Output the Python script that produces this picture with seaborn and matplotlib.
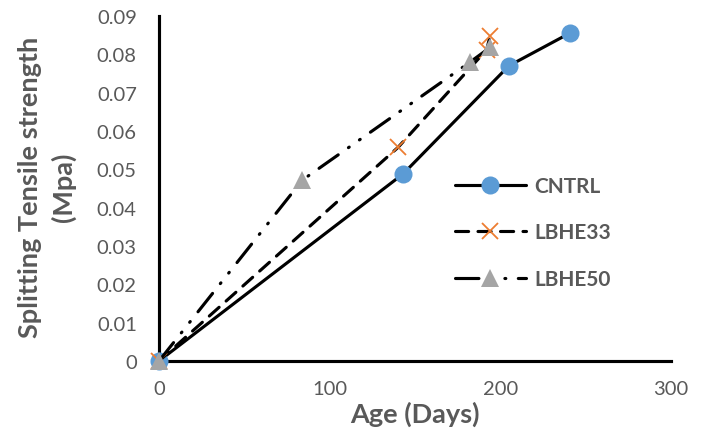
import matplotlib
matplotlib.use("Agg")
import matplotlib.pyplot as plt
import seaborn as sns
import pandas as pd
from matplotlib.lines import Line2D

# ---- data ----
series_names = ["CNTRL", "LBHE33", "LBHE50"]
cntrl_age = [0, 143, 205, 241]
cntrl_str = [0, 0.0488, 0.0770, 0.0856]
lbhe33_age = [0, 140, 192, 194]
lbhe33_str = [0, 0.0557, 0.0812, 0.0848]
lbhe50_age = [0, 84, 182, 194]
lbhe50_str = [0, 0.0472, 0.0779, 0.0818]
x_ticks = [0, 100, 200, 300]
y_ticks = [0, 0.01, 0.02, 0.03, 0.04, 0.05, 0.06, 0.07, 0.08, 0.09]
y_tick_labels = ["0", "0.01", "0.02", "0.03", "0.04", "0.05", "0.06", "0.07", "0.08", "0.09"]

sns.set_style("white")
plt.rcParams["font.family"] = ["Lato", "DejaVu Sans"]

TEXT = "#595959"
BLUE = "#5B9BD5"
ORANGE = "#ED7D31"
GRAY = "#A5A5A5"
LW = 2.25

fig = plt.figure(figsize=(7.07, 4.39), dpi=100)
ax = fig.add_axes([159/707, 77/439, 512/707, 345/439])

styles = [
    dict(linestyle="-", marker="o", markersize=13, markerfacecolor=BLUE,
         markeredgecolor=BLUE, markeredgewidth=0),
    dict(linestyle=(0, (4.2, 3.0)), marker="x", markersize=11,
         markeredgecolor=ORANGE, markeredgewidth=1.3),
    dict(linestyle=(0, (7.5, 4.0, 0.3, 4.0, 0.3, 4.0)), marker="^", markersize=13,
         markerfacecolor=GRAY, markeredgecolor=GRAY, markeredgewidth=0),
]
ages = [cntrl_age, lbhe33_age, lbhe50_age]
strs = [cntrl_str, lbhe33_str, lbhe50_str]

handles = []
for i, name in enumerate(series_names):
    df = pd.DataFrame({"age": ages[i], "strength": strs[i]})
    sns.lineplot(data=df, x="age", y="strength", ax=ax, sort=False,
                 color="black", linewidth=LW, clip_on=False,
                 dash_capstyle="round", solid_capstyle="round",
                 zorder=3 + i, **styles[i])
    handles.append(Line2D([], [], color="black", linewidth=LW,
                          dash_capstyle="round", solid_capstyle="round", **styles[i]))

ax.set_xlim(0, 300)
ax.set_ylim(0, 0.09)
ax.set_xticks(x_ticks)
ax.set_xticklabels([str(v) for v in x_ticks])
ax.set_yticks(y_ticks)
ax.set_yticklabels(y_tick_labels)
ax.tick_params(axis="both", length=0, labelsize=14.5, labelcolor=TEXT)
ax.tick_params(axis="y", pad=16)
ax.tick_params(axis="x", pad=14)

for s in ["top", "right"]:
    ax.spines[s].set_visible(False)
for s in ["left", "bottom"]:
    ax.spines[s].set_color("black")
    ax.spines[s].set_linewidth(LW)
ax.grid(False)

ax.set_xlabel("Age (Days)", fontsize=19.5, fontweight="bold", color=TEXT, labelpad=2)
ax.set_ylabel("")
fig.text(47/707, 1 - 187/439, "Splitting Tensile strength\n(Mpa)", rotation=90,
         ha="center", va="center", fontsize=19.5, fontweight="bold", color=TEXT,
         linespacing=1.42, multialignment="center")

leg = ax.legend(handles, series_names, loc="upper left",
                bbox_to_anchor=(455/707, 1 - 177/439), bbox_transform=fig.transFigure,
                frameon=False, handlelength=3.4, handletextpad=0.4,
                labelspacing=1.27, numpoints=1, borderaxespad=0, borderpad=0,
                prop=dict(size=15, weight="bold"))
for t in leg.get_texts():
    t.set_color(TEXT)

fig.savefig("out.png", dpi=100)
